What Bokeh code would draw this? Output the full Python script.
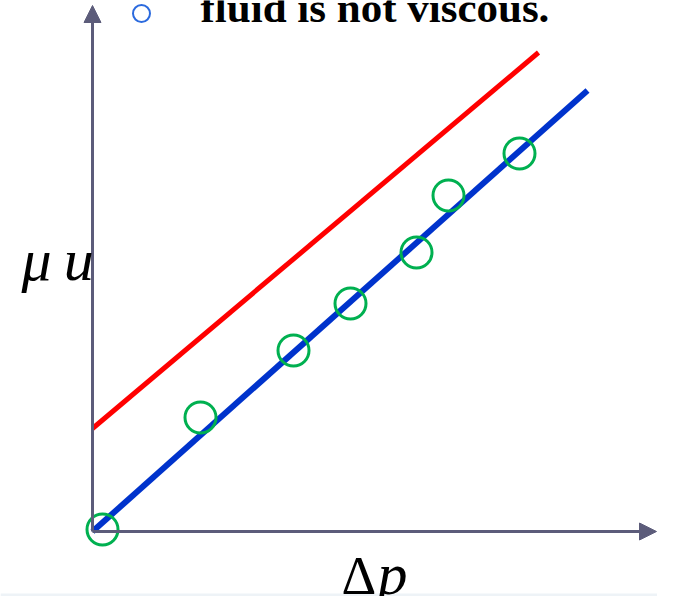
from bokeh.plotting import figure
from bokeh.models import Range1d, Label, Arrow, NormalHead
from bokeh.embed import file_html
from bokeh.resources import INLINE

# measured points (Δp, μu) in arbitrary units
delta_p = [0.2, 2.16, 4.02, 5.16, 6.48, 7.12, 8.54]
mu_u = [0.04, 2.28, 3.62, 4.56, 5.58, 6.72, 7.56]

# fitted line (blue) and inviscid reference line (red)
blue_x = [0.0, 9.9]
blue_y = [0.0, 8.82]
red_x = [0.0, 8.92]
red_y = [2.06, 9.58]

legend_text = "fluid is not viscous."
x_label_a = "Δ"
x_label_b = "p"
y_label = "μ\u2009u"

AXIS = "#5c5c7a"

p = figure(width=657, height=596, output_backend="svg", toolbar_location=None,
           x_range=Range1d(-1.84, 11.3), y_range=Range1d(-1.3, 10.62),
           min_border=0, outline_line_color=None,
           background_fill_color="white", border_fill_color="white")
p.axis.visible = False
p.grid.visible = False

# light band at the bottom of the slide
p.quad(left=-1.84, right=11.42, bottom=-1.62, top=-1.24,
       fill_color="#eef3f7", line_color=None)

# axes with arrow heads
p.add_layout(Arrow(x_start=0, y_start=0, x_end=11.28, y_end=0,
                   line_color=AXIS, line_width=3,
                   end=NormalHead(size=17, fill_color=AXIS, line_color=AXIS, line_width=1)))
p.add_layout(Arrow(x_start=0, y_start=0, x_end=0, y_end=10.52,
                   line_color=AXIS, line_width=3,
                   end=NormalHead(size=17, fill_color=AXIS, line_color=AXIS, line_width=1)))

p.line(red_x, red_y, line_color="#ff0000", line_width=5)
p.line(blue_x, blue_y, line_color="#0033cc", line_width=6)

p.scatter(delta_p, mu_u, marker="circle", size=31, fill_color=None,
          line_color="#00b050", line_width=3)

# legend-like bullet and text at the top (cropped as in the slide)
p.scatter([0.98], [10.36], marker="circle", size=17, fill_color=None,
          line_color="#2b6ade", line_width=2)
p.add_layout(Label(x=2.16, y=10.48, text=legend_text, text_font="Liberation Serif",
                   text_font_style="bold", text_font_size="43px",
                   text_color="black", text_baseline="alphabetic"))

# axis labels
p.add_layout(Label(x=-1.42, y=5.44, text=y_label, text_font="Liberation Serif",
                   text_font_style="italic", text_font_size="60px",
                   text_color="black", text_baseline="alphabetic"))
p.add_layout(Label(x=4.98, y=-0.88, text=x_label_a, text_font="Liberation Serif",
                   text_font_size="54px", text_color="black",
                   text_baseline="alphabetic"))
p.add_layout(Label(x=5.7, y=-0.84, text=x_label_b, text_font="Liberation Serif",
                   text_font_style="italic", text_font_size="60px",
                   text_color="black", text_baseline="alphabetic"))

open("out.html", "w").write(file_html(p, INLINE))
